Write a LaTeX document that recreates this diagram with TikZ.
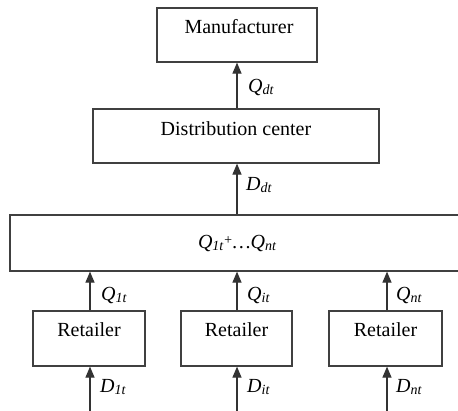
\documentclass[tikz,border=0pt]{standalone}
\usepackage{fontspec}
\setmainfont{Liberation Serif}
\usetikzlibrary{arrows.meta}
\newcommand{\sbs}[1]{\raisebox{-0.22ex}{\fontsize{14}{14}\selectfont #1}}
\begin{document}
\begin{tikzpicture}[x=1pt,y=-1pt,
  box/.style={draw=black!75,line width=1.2pt,inner sep=0pt,fill=white},
  txt/.style={font=\fontsize{20}{22}\selectfont,inner sep=0pt},
  lbl/.style={font=\fontsize{20}{22}\selectfont\itshape,inner sep=0pt,anchor=west},
  flow/.style={line width=1.2pt,draw=black!80,-{Triangle[width=9pt,length=11pt]}}]
\useasboundingbox (0,0) rectangle (458,410);
\clip (0,0) rectangle (458,410);
% boxes
\node[box,minimum width=160pt,minimum height=54pt] (man) at (237,35) {};
\node[txt] (mant) at (239,27) {Manufacturer};
\node[box,minimum width=286pt,minimum height=54pt] (dc) at (236,136) {};
\node[txt] (dct) at (236,129) {Distribution center};
\node[box,minimum width=460pt,minimum height=56pt] (agg) at (240,243) {};
\node[txt,font=\fontsize{20}{22}\selectfont\itshape] (aggt) at (237,243) {Q\sbs{1t}\raisebox{0.35ex}{\fontsize{14}{14}\selectfont +}…Q\sbs{nt}};
\node[box,minimum width=112pt,minimum height=55pt] (r1) at (89,338.5) {};
\node[txt] (r1t) at (89,330) {Retailer};
\node[box,minimum width=111pt,minimum height=55pt] (r2) at (236.5,338.5) {};
\node[txt] (r2t) at (236.5,330) {Retailer};
\node[box,minimum width=113pt,minimum height=55pt] (r3) at (385.5,338.5) {};
\node[txt] (r3t) at (385.5,330) {Retailer};
% coordinates
\coordinate (b1) at (90,412);
\coordinate (b2) at (237,412);
\coordinate (b3) at (387,412);
% arrows
\draw[flow] (dc.north -| 237,0) -- (man.south -| 237,0);
\draw[flow] (agg.north -| 237,0) -- (dc.south -| 237,0);
\draw[flow] (r1.north -| 90,0) -- (agg.south -| 90,0);
\draw[flow] (r2.north -| 237,0) -- (agg.south -| 237,0);
\draw[flow] (r3.north -| 387,0) -- (agg.south -| 387,0);
\draw[flow] (b1) -- (r1.south -| b1);
\draw[flow] (b2) -- (r2.south -| b2);
\draw[flow] (b3) -- (r3.south -| b3);
% labels
\node[lbl] (lqd) at (248,87) {Q\sbs{dt}};
\node[lbl] (ldd) at (246,185) {D\sbs{dt}};
\node[lbl] (lq1) at (101,295) {Q\sbs{1t}};
\node[lbl] (lqi) at (247,295) {Q\sbs{it}};
\node[lbl] (lqn) at (396,295) {Q\sbs{nt}};
\node[lbl] (ld1) at (100,387) {D\sbs{1t}};
\node[lbl] (ldi) at (247,387) {D\sbs{it}};
\node[lbl] (ldn) at (396,387) {D\sbs{nt}};
\end{tikzpicture}
\end{document}
